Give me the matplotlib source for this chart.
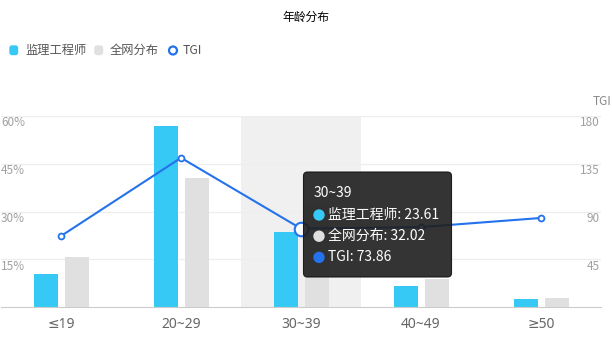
import matplotlib
matplotlib.use("Agg")
import matplotlib.pyplot as plt
import matplotlib.transforms as mtransforms
from matplotlib.patches import FancyBboxPatch, Circle
import numpy as np

plt.rcParams['font.family'] = ['Noto Sans CJK SC', 'DejaVu Sans']

# ----------------- DATOS -----------------
categorias = ["≤19", "20~29", "30~39", "40~49", "≥50"]
serie_nombres = ["监理工程师", "全网分布", "TGI"]
监理 = [10.5, 56.95, 23.61, 6.7, 2.45]
全网 = [15.7, 40.5, 32.02, 8.9, 2.92]
tgi = [66.9, 140.6, 73.86, 75.3, 83.9]
ticks_izq = [15, 30, 45, 60]
ticks_der = [45, 90, 135, 180]
idx_hover = 2

azul = "#36C9F6"
gris = "#E0E0E0"
linea = "#2472EC"

W, H = 612, 341
fig = plt.figure(figsize=(W / 100, H / 100), dpi=100)
px = mtransforms.IdentityTransform()


def fy(y):
    # convierte y desde arriba (pixeles) a y desde abajo
    return H - y


ax = fig.add_axes([1 / W, 34 / H, 600 / W, 191 / H])
ax2 = ax.twinx()
ax.set_xlim(-0.5, 4.5)
ax.set_ylim(0, 60)
ax2.set_ylim(0, 180)

x = np.arange(len(categorias))
ax.axvspan(idx_hover - 0.5, idx_hover + 0.5, color="#F0F0F0", zorder=0, lw=0)
ax.bar(x - 0.125, 监理, width=0.2, color=azul, zorder=2)
ax.bar(x + 0.135, 全网, width=0.2, color=gris, zorder=2)

ax2.plot(x, tgi, color=linea, lw=1.5, zorder=3)
ax2.scatter(np.delete(x, idx_hover), np.delete(tgi, idx_hover), s=18,
            facecolor="white", edgecolor=linea, lw=1.3, zorder=4)
ax2.scatter([x[idx_hover]], [tgi[idx_hover]], s=95, facecolor="white",
            edgecolor=linea, lw=1.5, zorder=4)

ax.set_yticks(ticks_izq)
ax.grid(axis="y", color="#EEEEEE", lw=0.9, zorder=0)
ax.set_axisbelow(True)
ax.tick_params(length=0, labelleft=False)
ax2.set_yticks(ticks_der)
ax2.tick_params(length=0, labelright=False)
ax.set_xticks(x)
ax.set_xticklabels(categorias, fontsize=10, color="#666666",
                   family=["Noto Sans", "DejaVu Sans"])
ax.tick_params(axis="x", pad=7)
for a in (ax, ax2):
    for lado in ["top", "left", "right"]:
        a.spines[lado].set_visible(False)
    a.spines["bottom"].set_color("#CCCCCC")
ax2.spines["bottom"].set_visible(False)
ax.axhline(60, color="#EEEEEE", lw=0.9, zorder=0)

# etiquetas de los ejes dentro del area
for v in ticks_izq:
    ax.annotate(f"{v}%", (0, v), xycoords=("axes fraction", "data"),
                xytext=(0, -5), textcoords="offset points", ha="left",
                va="center", fontsize=8.5, color="#A0A0A0")
for v in ticks_der:
    ax2.annotate(f"{v}", (1, v), xycoords=("axes fraction", "data"),
                 xytext=(-1, -5), textcoords="offset points", ha="right",
                 va="center", fontsize=8.5, color="#A0A0A0")
fig.text(611 / W, fy(102) / H, "TGI", ha="right", va="center",
         fontsize=8.5, color="#888888")

# titulo
fig.text(306 / W, fy(17) / H, "年龄分布", ha="center", va="center",
         fontsize=8.5, color="#000000")

# leyenda
for xx, c in [(10, azul), (95, gris)]:
    fig.patches.append(FancyBboxPatch((xx, fy(54.5)), 7.5, 8.5,
                                      boxstyle="round,pad=0,rounding_size=2",
                                      transform=px, color=c))
fig.text(25 / W, fy(50.5) / H, serie_nombres[0], va="center",
         fontsize=8.8, color="#555555")
fig.text(110 / W, fy(50.5) / H, serie_nombres[1], va="center",
         fontsize=8.8, color="#555555")
fig.patches.append(Circle((173, fy(50.5)), 4, transform=px, facecolor="white",
                          edgecolor=linea, lw=1.6))
fig.text(183 / W, fy(50.5) / H, serie_nombres[2], va="center",
         fontsize=8.8, color="#555555")

# tooltip
tip = FancyBboxPatch((303.5, fy(277)), 148, 105,
                     boxstyle="round,pad=0,rounding_size=4", transform=px,
                     facecolor="#1E1E1E", edgecolor="#111111", lw=0.8,
                     alpha=0.9, zorder=10)
fig.patches.append(tip)
fig.text(314 / W, fy(193) / H, categorias[idx_hover], va="center",
         fontsize=10, color="white", zorder=11)
filas = [(azul, serie_nombres[0], 监理[idx_hover]),
         (gris, serie_nombres[1], 全网[idx_hover]),
         (linea, serie_nombres[2], tgi[idx_hover])]
for i, (c, nombre, val) in enumerate(filas):
    yy = fy(215 + i * 21.2)
    fig.patches.append(Circle((319, yy), 5, transform=px, color=c, zorder=11))
    fig.text(328.5 / W, yy / H, f"{nombre}: {val:.2f}", va="center",
             fontsize=10, color="white", zorder=11)

fig.savefig("out.png", dpi=100)
